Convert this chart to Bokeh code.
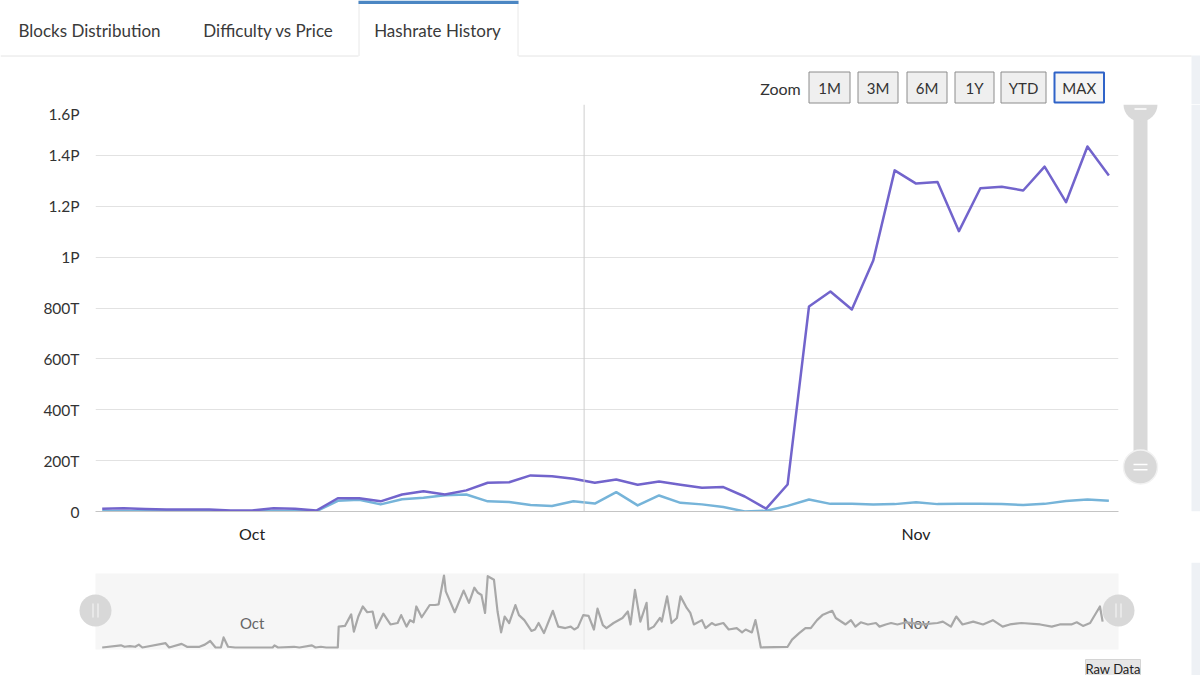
import numpy as np
import pandas as pd
from bokeh.plotting import figure
from bokeh.layouts import column, row
from bokeh.models import Range1d, FixedTicker, Span
from bokeh.core.properties import value
from bokeh.embed import file_html
from bokeh.resources import INLINE

# ---------------- data ----------------
START = "2021-09-24"
DATES = pd.date_range(START, periods=48, freq="D")          # one point per day
HASHRATE_T = [11, 13, 10, 8, 8, 8, 4, 4, 13, 11, 4, 52, 52, 40, 67, 80, 67, 83,
              113, 115, 142, 139, 129, 113, 126, 105, 118, 105, 93, 96, 59, 11, 106,
              806, 865, 794, 987, 1341, 1289, 1295, 1102, 1271, 1277, 1262, 1356,
              1216, 1435, 1321]
NETWORK_T = [1, 1, 1, 1, 1, 1, 1, 1, 2, 2, 1, 42, 46, 28, 48, 54, 64, 67, 40, 37,
             26, 22, 40, 31, 76, 24, 63, 34, 28, 18, 0, 3, 22, 47, 30, 30, 28, 29,
             36, 29, 30, 30, 29, 26, 30, 41, 47, 42]

# navigator series (hours after START, value)
NAV_HOURS = [0, 21, 25, 31, 37, 41, 45, 71, 75, 89, 95, 109, 115, 121, 127, 133, 136, 141,
             149, 191, 193, 197, 215, 221, 235, 239, 245, 251, 264, 265, 272, 279, 282,
             287, 292, 297, 303, 307, 315, 323, 331, 335, 341, 345, 349, 352, 358, 367,
             373, 377, 383, 385, 395, 405, 411, 417, 421, 425, 429, 432, 439, 443, 447,
             451, 456, 463, 467, 473, 481, 485, 489, 495, 505, 511, 519, 525, 529, 533,
             539, 545, 551, 555, 561, 565, 573, 583, 589, 592,
             597, 603, 610, 612, 618, 625, 627, 633, 638, 644, 648, 655, 659, 663, 672,
             676, 683, 687, 696, 702, 711, 717, 721, 728, 732, 735, 738, 768, 773, 781,
             788, 794, 801, 807, 818, 822, 833, 839, 844, 850, 858, 867, 871, 878, 884,
             891, 901, 919, 936, 942, 951, 957, 964, 976, 987, 998, 1009, 1017, 1030,
             1051, 1064, 1073, 1086, 1092, 1099, 1107, 1118, 1121]
NAV_VALUES = [0, 3, 1, 2, 1, 4, 0, 6, 0, 5, 1, 1, 4, 9, 0, 0, 14, 1, 0, 0, 3, 0, 1, 0,
              3, 0, 1, 0, 0, 29, 30, 46, 22, 43, 57, 49, 50, 27, 47, 32, 34, 45, 29, 38,
              35, 57, 42, 59, 59, 60, 100, 78, 49, 79, 62, 83, 76, 73, 48, 99, 94, 50,
              21, 43, 34, 59, 45, 38, 23, 25, 34, 20, 51, 29, 27, 29, 25, 28, 45, 44,
              25, 54, 31, 27, 34, 41, 50, 32,
              80, 36, 62, 25, 29, 41, 36, 71, 34, 41, 71, 55, 48, 32, 38, 27, 34, 31,
              34, 25, 27, 21, 25, 21, 38, 20, 0, 1, 11, 20, 27, 27, 38, 45, 51, 41, 32,
              38, 29, 35, 32, 34, 29, 32, 34, 32, 35, 32, 34, 36, 29, 43, 32, 36, 32,
              38, 29, 32, 34, 32, 29, 32, 32, 35, 30, 34, 57, 36]

Y_TICKS = [0, 200, 400, 600, 800, 1000, 1200, 1400, 1600]
Y_LABELS = ["0", "200T", "400T", "600T", "800T", "1P", "1.2P", "1.4P", "1.6P"]
MONTH_TICKS = ["2021-10-01", "2021-11-01"]
MONTH_LABELS = ["Oct", "Nov"]
PLOT_LINE = "2021-10-16 12:00"

TABS = ["Blocks Distribution", "Difficulty vs Price", "Hashrate History"]
ZOOM_BUTTONS = ["1M", "3M", "6M", "1Y", "YTD", "MAX"]

# ---------------- style / layout constants ----------------
FONT = value("Lato")
PURPLE = "#7264cc"
BLUE = "#76b4d9"
NAV_GREY = "#a8a8a8"
TEXT = "#333333"
PANEL = "#eef1f5"
W, H = 1200, 675

def ms(ts):
    return pd.Timestamp(ts).value / 1e6

day0 = pd.Timestamp(START)
PAD_L_DAYS, PAD_R_DAYS = 0.313, 0.45
x_start = ms(day0 - pd.Timedelta(days=PAD_L_DAYS))
x_end = ms(day0 + pd.Timedelta(days=47 + PAD_R_DAYS))
FRAME_L, FRAME_R = 95, 1118
ms_per_px = (x_end - x_start) / (FRAME_R - FRAME_L)

def bare(fig):
    fig.grid.visible = False
    return fig

# ---------------- header (tabs + zoom buttons) ----------------
hdr = bare(figure(width=W, height=104, x_range=Range1d(0, W), y_range=Range1d(-104, 0),
                  output_backend="svg", toolbar_location=None, min_border=0, title=None,
                  x_axis_location=None, y_axis_location=None, outline_line_color=None))
hdr.quad(left=[1191], right=[W], top=[-55], bottom=[-104], fill_color=PANEL, line_color=None)
hdr.segment(x0=[0, 518], y0=[-55.5, -55.5], x1=[358, 1191], y1=[-55.5, -55.5],
            line_color="#e4e4e4", line_width=1)
hdr.segment(x0=[358.5, 517.5], y0=[0, 0], x1=[358.5, 517.5], y1=[-55.5, -55.5],
            line_color="#e8e8e8", line_width=1)
hdr.quad(left=[358], right=[518], top=[0], bottom=[-3.5], fill_color="#4b86c3",
         line_color=None)
hdr.text(x=[89, 268, 437], y=[-30, -30, -30], text=TABS, text_font=FONT,
         text_font_size="17px", text_color="#3a3a3a", text_align="center",
         text_baseline="middle")
hdr.text(x=[780], y=[-87.5], text=["Zoom"], text_font=FONT, text_font_size="16px",
         text_color=TEXT, text_align="center", text_baseline="middle")
BTN_L = [808.5, 857.5, 906.5, 954.5, 1000.5, 1054]
BTN_R = [849.5, 897.5, 946.5, 993.5, 1045.5, 1103.5]
hdr.quad(left=BTN_L[:-1], right=BTN_R[:-1], top=-71.5, bottom=-102.5,
         fill_color="#efefef", line_color="#8c8c8c", line_width=1)
hdr.quad(left=BTN_L[-1:], right=BTN_R[-1:], top=-72, bottom=-102,
         fill_color="#f5f5f5", line_color="#2f63c8", line_width=2)
hdr.text(x=[(l + r) / 2 for l, r in zip(BTN_L, BTN_R)], y=[-87.5] * 6,
         text=ZOOM_BUTTONS, text_font=FONT, text_font_size="15px", text_color=TEXT,
         text_align="center", text_baseline="middle")

# ---------------- main chart ----------------
main = figure(width=1120, height=458, x_axis_type="datetime",
              x_range=Range1d(x_start, x_end), y_range=Range1d(0, 1600),
              output_backend="svg", toolbar_location=None, title=None,
              min_border_left=FRAME_L, min_border_right=2, min_border_top=0,
              min_border_bottom=51, outline_line_color=None)
main.xgrid.visible = False
main.ygrid.ticker = FixedTicker(ticks=Y_TICKS[1:-1])
main.ygrid.grid_line_color = "#e2e2e2"
main.yaxis.ticker = FixedTicker(ticks=Y_TICKS)
main.yaxis.major_label_overrides = dict(zip(Y_TICKS, Y_LABELS))
main.yaxis.axis_line_color = None
main.yaxis.major_tick_line_color = None
main.yaxis.minor_tick_line_color = None
main.yaxis.major_label_standoff = 10
main.yaxis.major_label_text_font = "Lato"
main.yaxis.major_label_text_font_size = "15.5px"
main.yaxis.major_label_text_color = TEXT

month_ms = [ms(m) for m in MONTH_TICKS]
main.xaxis.ticker = FixedTicker(ticks=month_ms)
main.xaxis.major_label_overrides = dict(zip(month_ms, MONTH_LABELS))
main.xaxis.axis_line_color = "#c4c4c4"
main.xaxis.major_tick_line_color = None
main.xaxis.minor_tick_line_color = None
main.xaxis.major_label_standoff = 6
main.xaxis.major_label_text_font = "Lato"
main.xaxis.major_label_text_font_size = "16px"
main.xaxis.major_label_text_color = "#222222"

main.add_layout(Span(location=ms(PLOT_LINE), dimension="height",
                     line_color="#cfcfcf", line_width=1))
main.line(DATES, NETWORK_T, line_color=BLUE, line_width=2.5, line_join="round")
main.line(DATES, HASHRATE_T, line_color=PURPLE, line_width=2.5, line_join="round")

# ---------------- vertical scrollbar ----------------
side = bare(figure(width=W - 1120, height=458, x_range=Range1d(1120, W),
                   y_range=Range1d(-562, -104), output_backend="svg",
                   toolbar_location=None, min_border=0, title=None,
                   x_axis_location=None, y_axis_location=None, outline_line_color=None))
side.quad(left=[1191], right=[W], top=[-104], bottom=[-562], fill_color=PANEL, line_color=None)
side.quad(left=[1133], right=[1147], top=[-110], bottom=[-512], fill_color="#d9d9d9",
          line_color=None)
side.wedge(x=[1140], y=[-104], radius=17, start_angle=np.pi, end_angle=2 * np.pi,
           fill_color="#d9d9d9", line_color=None)
side.segment(x0=[1134], y0=[-109], x1=[1146], y1=[-109], line_color="white", line_width=1.5)
side.circle(x=[1140], y=[-512], radius=17, fill_color="#d9d9d9", line_color="#f2f2f2",
            line_width=1.5)
side.segment(x0=[1133, 1133], y0=[-509, -515], x1=[1147, 1147], y1=[-509, -515],
             line_color="white", line_width=1.5)

# ---------------- navigator ----------------
nav_t = day0 + pd.to_timedelta(NAV_HOURS, unit="h")
vmin, vmax = min(NAV_VALUES), max(NAV_VALUES)
NAV_TOP, NAV_BASE = 575, 647          # pixel rows of max / min value
span_v = (vmax - vmin) / (NAV_BASE - NAV_TOP)
nav = bare(figure(width=W, height=H - 562,
                  x_range=Range1d(x_start - FRAME_L * ms_per_px,
                                  x_end + (W - FRAME_R) * ms_per_px),
                  y_range=Range1d(vmin - (H - NAV_BASE) * span_v,
                                  vmax + (NAV_TOP - 562) * span_v),
                  output_backend="svg", toolbar_location=None, min_border=0, title=None,
                  x_axis_location=None, y_axis_location=None, outline_line_color=None))
nav.extra_x_ranges = {"px": Range1d(0, W)}
nav.extra_y_ranges = {"px": Range1d(-H, -562)}
nav.quad(left=[1191], right=[W], top=[-562], bottom=[-H], fill_color=PANEL, line_color=None,
         x_range_name="px", y_range_name="px")
nav.quad(left=[FRAME_L], right=[FRAME_R], top=[-573], bottom=[-649], fill_color="#f6f6f6",
         line_color=None, x_range_name="px", y_range_name="px")
nav.segment(x0=[ms(PLOT_LINE)], y0=[-573], x1=[ms(PLOT_LINE)], y1=[-649],
            line_color="#e6e6e6", line_width=1, y_range_name="px")
nav.text(x=month_ms, y=[-622, -622], text=MONTH_LABELS, text_font=FONT,
         text_font_size="15px", text_color="#666666", text_align="center",
         text_baseline="middle", y_range_name="px")
nav.line(nav_t, NAV_VALUES, line_color=NAV_GREY, line_width=2.2, line_join="round")
nav.circle(x=[FRAME_L, FRAME_R], y=[-610, -610], radius=16, fill_color="#d8d8d8",
           line_color=None, x_range_name="px", y_range_name="px")
nav.segment(x0=[FRAME_L - 2.5, FRAME_L + 2.5, FRAME_R - 2.5, FRAME_R + 2.5],
            y0=[-603] * 4,
            x1=[FRAME_L - 2.5, FRAME_L + 2.5, FRAME_R - 2.5, FRAME_R + 2.5],
            y1=[-617] * 4, line_color="#f4f4f4", line_width=1.2,
            x_range_name="px", y_range_name="px")
nav.quad(left=[1085], right=[1140], top=[-659], bottom=[-685], fill_color="#e6e6e6",
         line_color="#d4d4d4", x_range_name="px", y_range_name="px")
nav.text(x=[1112.5], y=[-668], text=["Raw Data"], text_font=FONT, text_font_size="13px",
         text_color="#222222", text_align="center", text_baseline="middle",
         x_range_name="px", y_range_name="px")

layout = column(hdr, row(main, side), nav)
open("out.html", "w").write(file_html(layout, INLINE))
